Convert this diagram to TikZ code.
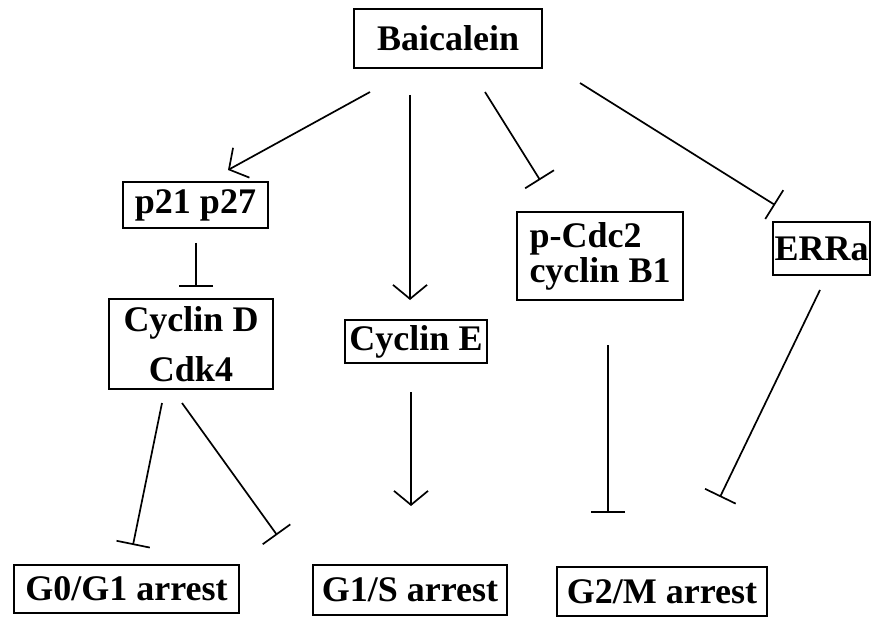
\documentclass[tikz,border=0pt]{standalone}
\usepackage{fontspec}
\setmainfont{Liberation Serif}
\usetikzlibrary{arrows.meta}
\begin{document}
\begin{tikzpicture}[x=1pt,y=-1pt,
  box/.style={draw, line width=2pt, inner sep=0pt, font=\fontsize{36}{42}\selectfont\bfseries},
  act/.style={line width=1.7pt, -{Straight Barb[length=14pt,width=34pt]}},
  inh/.style={line width=1.7pt, -{Bar[width=34pt]}}]
\useasboundingbox (0,0) rectangle (874,617);
% nodes
\node[box, minimum width=188pt, minimum height=59pt] (bai) at (448,38.5) {Baicalein};
\node[box, minimum width=145pt, minimum height=46pt] (p21) at (195.5,205) {p21 p27};
\node[box, minimum width=164pt, minimum height=90pt, align=center,
      font=\fontsize{36}{50}\selectfont\bfseries] (cycD) at (191,344) {Cyclin D\\Cdk4};
\node[box, minimum width=142pt, minimum height=43pt] (cycE) at (416,341.5) {Cyclin E};
\node[box, inner xsep=12pt, minimum width=166pt, minimum height=88pt, align=left,
      font=\fontsize{36}{35}\selectfont\bfseries] (pcdc) at (600,256) {p-Cdc2\\cyclin B1};
\node[box, minimum width=97pt, minimum height=53pt] (errA) at (821.5,248.5) {ERRa};
\node[box, minimum width=225pt, minimum height=48pt] (g0) at (126.5,589) {G0/G1 arrest};
\node[box, minimum width=194pt, minimum height=50pt] (g1s) at (410,590) {G1/S arrest};
\node[box, minimum width=210pt, minimum height=49pt] (g2m) at (662,591.5) {G2/M arrest};
% connector end points
\coordinate (c1s) at (370,92);  \coordinate (c1e) at (228,170);
\coordinate (c2s) at (410,95);  \coordinate (c2e) at (410,300);
\coordinate (c3s) at (485,92);  \coordinate (c3e) at (540,180);
\coordinate (c4s) at (580,83);  \coordinate (c4e) at (775,205);
\coordinate (c5s) at (196,243); \coordinate (c5e) at (196,287);
\coordinate (c6s) at (162,403); \coordinate (c6e) at (133,545);
\coordinate (c7s) at (182,403); \coordinate (c7e) at (277,535);
\coordinate (c8s) at (411,392); \coordinate (c8e) at (411,506);
\coordinate (c9s) at (608,345); \coordinate (c9e) at (608,513);
\coordinate (c10s) at (820,290); \coordinate (c10e) at (720,497);
% connectors
\draw[act] (c1s) -- (c1e);
\draw[act] (c2s) -- (c2e);
\draw[inh] (c3s) -- (c3e);
\draw[inh] (c4s) -- (c4e);
\draw[inh] (c5s) -- (c5e);
\draw[inh] (c6s) -- (c6e);
\draw[inh] (c7s) -- (c7e);
\draw[act] (c8s) -- (c8e);
\draw[inh] (c9s) -- (c9e);
\draw[inh] (c10s) -- (c10e);
\end{tikzpicture}
\end{document}
